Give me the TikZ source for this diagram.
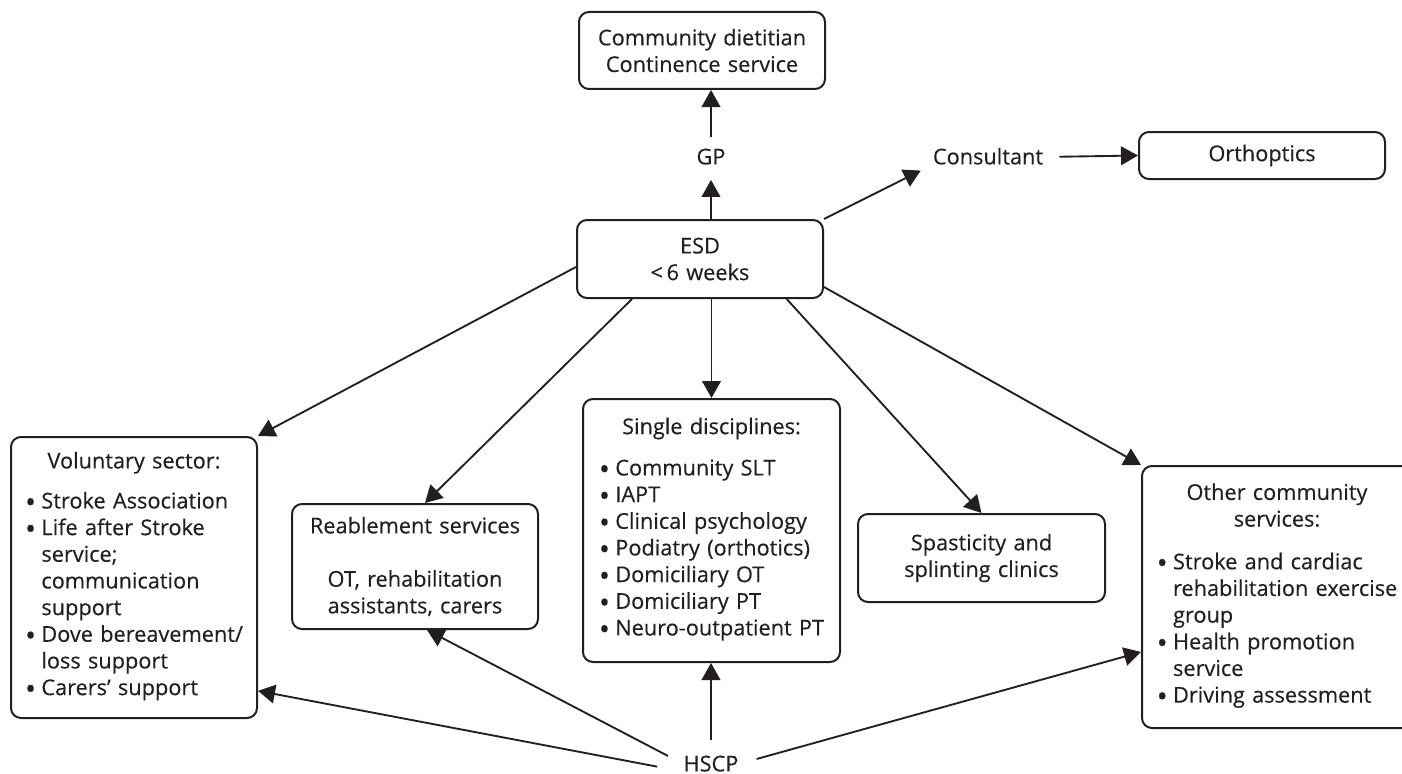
\documentclass[tikz,border=0pt]{standalone}
\usepackage{fontspec}
\setmainfont{Open Sans}[FakeBold=0.35]
\usetikzlibrary{arrows.meta}
\definecolor{ink}{HTML}{231F20}
\newcommand\fs{\fontsize{16.3}{20}\selectfont}
% larger round bullet for the service lists
\newcommand\bul{\raisebox{-3pt}[0pt][0pt]{\fontsize{22}{20}\selectfont•}}
\begin{document}
\begin{tikzpicture}[x=0.75pt,y=-0.75pt,
  every node/.style={font=\fs, text=ink},
  box/.style={draw=ink, line width=1.5pt, rounded corners=7.5pt, inner sep=0pt, align=center},
  lbl/.style={inner sep=0pt, text height=11pt, text depth=0pt},
  arr/.style={draw=ink, line width=1.4pt, -{Triangle[length=12.75pt,width=14pt]}}]
\path[use as bounding box] (0,0) rectangle (1402,774);
\clip (0,0) rectangle (1402,774);

% services
\node[box, minimum width=246*0.75pt, minimum height=77*0.75pt, text width=240*0.75pt] (diet) at (702,50.5)
  {Community dietitian\\Continence service};
\node[lbl] (gp) at (711,157) {GP};
\node[box, minimum width=246*0.75pt, minimum height=78*0.75pt, text width=240*0.75pt] (esd) at (700,259)
  {ESD\\<\,6 weeks};
\node[lbl] (cons) at (988,157) {Consultant};
\node[box, minimum width=246*0.75pt, minimum height=47*0.75pt, text width=240*0.75pt] (orth) at (1262,155.5)
  {Orthoptics};

\node[box, minimum width=246*0.75pt, minimum height=281*0.75pt, text width=244*0.75pt] (vol) at (134,577.5)
  {Voluntary sector:\\[10pt]
   \begin{tabular}[t]{@{}l@{\hspace{4pt}}l@{}}
   \bul & Stroke Association\\
   \bul & Life after Stroke\\
        & service;\\
        & communication\\
        & support\\
   \bul & Dove bereavement/\\
        & loss support\\
   \bul & Carers’ support
   \end{tabular}};

\node[box, minimum width=246*0.75pt, minimum height=125*0.75pt, text width=240*0.75pt] (reab) at (415,566.5)
  {Reablement services\\[20pt]OT, rehabilitation\\assistants, carers};

\node[box, minimum width=257*0.75pt, minimum height=263*0.75pt, text width=254*0.75pt] (single) at (711.5,530.5)
  {Single disciplines:\\[11pt]
   \begin{tabular}[t]{@{}l@{\hspace{4pt}}l@{}}
   \bul & Community SLT\\
   \bul & IAPT\\
   \bul & Clinical psychology\\
   \bul & Podiatry (orthotics)\\
   \bul & Domiciliary OT\\
   \bul & Domiciliary PT\\
   \bul & Neuro-outpatient PT
   \end{tabular}};

\node[box, minimum width=247*0.75pt, minimum height=88*0.75pt, text width=240*0.75pt] (spas) at (981.5,558)
  {Spasticity and\\splinting clinics};

\node[box, minimum width=270*0.75pt, minimum height=262*0.75pt, text width=266*0.75pt] (other) at (1277,597)
  {Other community\\services:\\[12pt]
   \begin{tabular}[t]{@{}l@{\hspace{4pt}}l@{}}
   \bul & Stroke and cardiac\\
        & rehabilitation exercise\\
        & group\\
   \bul & Health promotion\\
        & service\\
   \bul & Driving assessment
   \end{tabular}};

\node[lbl] (hscp) at (711,764) {HSCP};

% referrals
\draw[arr, shorten >=11.5pt] (esd.north -| gp.south) -- (gp.south);
\draw[arr, shorten <=9.5pt] (gp.north) -- (gp.north |- diet.south);
\draw[arr, shorten >=10pt] (esd.north east) -- (cons.south west);
\draw[arr, shorten <=12pt] (cons.east) -- (orth.west);
\draw[arr] ([yshift=-6pt]esd.west) -- (vol.north east);
\draw[arr] ([xshift=-51pt]esd.south) -- ([xshift=7.5pt]reab.north);
\draw[arr] (esd.south -| single.north) -- (single.north);
\draw[arr] ([xshift=65pt]esd.south) -- (spas.north);
\draw[arr] ([yshift=-21pt]esd.east) -- (other.north west);

\draw[arr, shorten <=20pt] (hscp.south west) -- ([yshift=-85pt]vol.east);
\draw[arr, shorten <=13pt] (hscp.west) -- ([xshift=9pt]reab.south);
\draw[arr, shorten <=12.5pt] (hscp.north) -- (hscp.north |- single.south);
\draw[arr, shorten <=14pt] (hscp.east) -- ([yshift=-41.25pt]other.west);
\end{tikzpicture}
\end{document}
